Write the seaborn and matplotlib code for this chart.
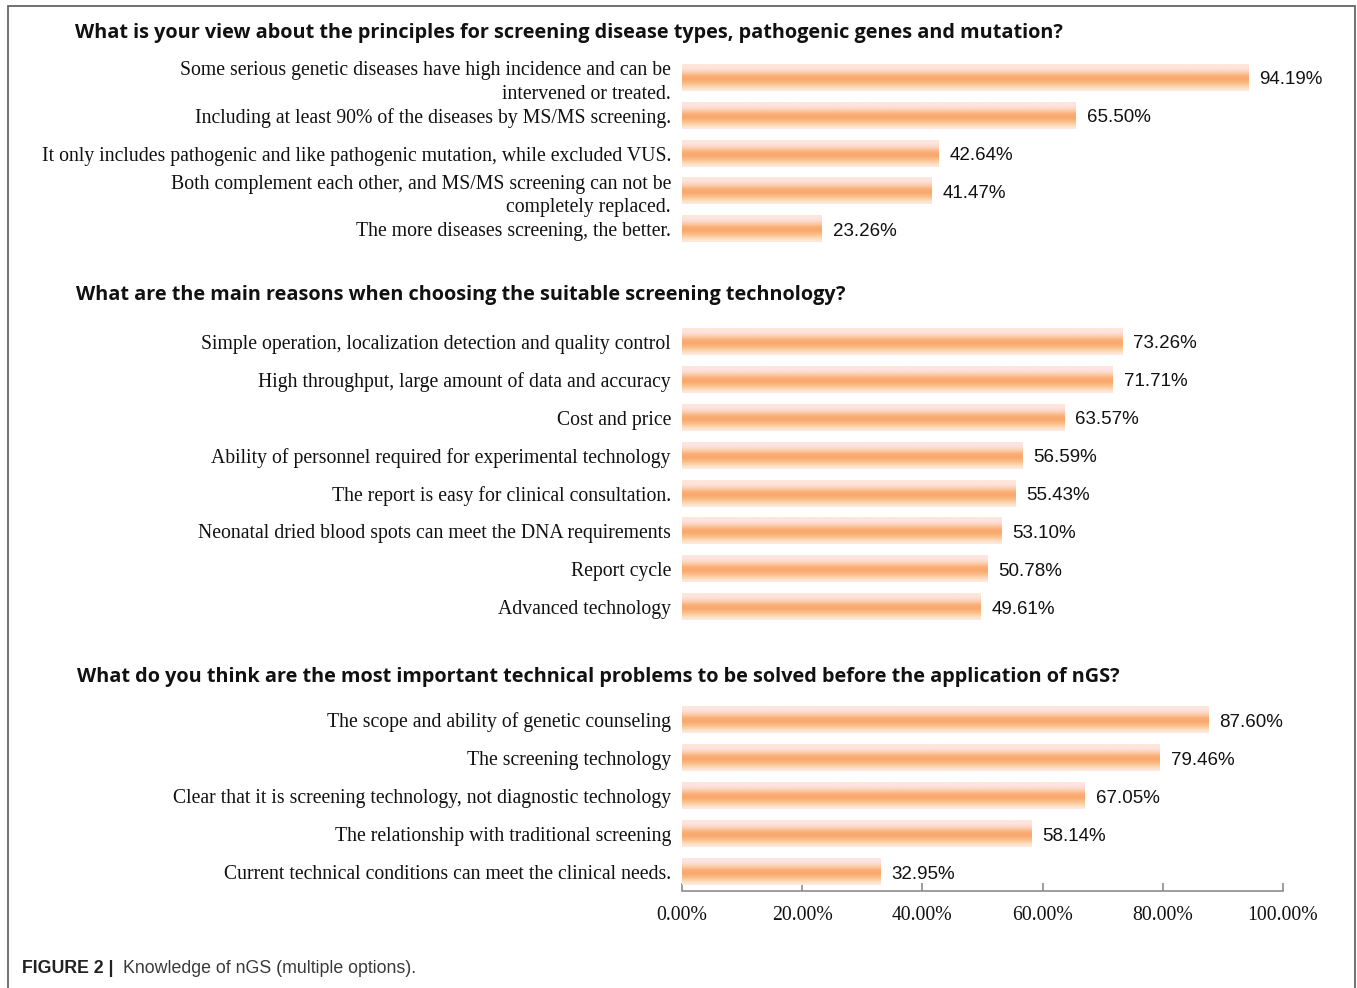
import numpy as np
import pandas as pd
import matplotlib
matplotlib.use("Agg")
import matplotlib.pyplot as plt
from matplotlib.colors import LinearSegmentedColormap
from matplotlib.patches import Rectangle
import seaborn as sns

# ---- survey data -------------------------------------------------------
q1_title = "What is your view about the principles for screening disease types, pathogenic genes and mutation?"
q1_labels = [
    "Some serious genetic diseases have high incidence and can be\nintervened or treated.",
    "Including at least 90% of the diseases by MS/MS screening.",
    "It only includes pathogenic and like pathogenic mutation, while excluded VUS.",
    "Both complement each other, and MS/MS screening can not be\ncompletely replaced.",
    "The more diseases screening, the better.",
]
q1_values = [94.19, 65.50, 42.64, 41.47, 23.26]

q2_title = "What are the main reasons when choosing the suitable screening technology?"
q2_labels = [
    "Simple operation, localization detection and quality control",
    "High throughput, large amount of data and accuracy",
    "Cost and price",
    "Ability of personnel required for experimental technology",
    "The report is easy for clinical consultation.",
    "Neonatal dried blood spots can meet the DNA requirements",
    "Report cycle",
    "Advanced technology",
]
q2_values = [73.26, 71.71, 63.57, 56.59, 55.43, 53.10, 50.78, 49.61]

q3_title = "What do you think are the most important technical problems to be solved before the application of nGS?"
q3_labels = [
    "The scope and ability of genetic counseling",
    "The screening technology",
    "Clear that it is screening technology, not diagnostic technology",
    "The relationship with traditional screening",
    "Current technical conditions can meet the clinical needs.",
]
q3_values = [87.60, 79.46, 67.05, 58.14, 32.95]

x_ticks = [0, 20, 40, 60, 80, 100]
x_tick_labels = ["0.00%", "20.00%", "40.00%", "60.00%", "80.00%", "100.00%"]

caption_bold = "FIGURE 2 |"
caption_text = "Knowledge of nGS (multiple options)."

# ---- style --------------------------------------------------------------
sns.set_style("white")
plt.rcParams["font.family"] = ["Liberation Serif", "DejaVu Serif"]

W, H = 1357, 988
fig = plt.figure(figsize=(W / 100, H / 100), dpi=100)

# vertical gradient used to fill every bar (top -> bottom)
bar_cmap = LinearSegmentedColormap.from_list(
    "peach",
    [(0.00, "#fde8d6"), (0.14, "#fde2e4"), (0.28, "#fcd2b4"),
     (0.45, "#faae76"), (0.58, "#f9a86c"), (0.75, "#fbc38f"),
     (0.90, "#fde0c4"), (1.00, "#feeae6")],
)
gradient = np.linspace(0, 1, 64).reshape(-1, 1)

ax_left = 682 / W
ax_width = (1283 - 682) / W


def px_axes(top_px, bottom_px):
    return fig.add_axes([ax_left, (H - bottom_px) / H, ax_width, (bottom_px - top_px) / H])


sections = [
    (q1_title, q1_labels, q1_values, 59, 248, 75, 33),
    (q2_title, q2_labels, q2_values, 323, 626, 76, 295),
    (q3_title, q3_labels, q3_values, 701, 891, 77, 677),
]

for i, (title, labels, values, top, bottom, tx, ty) in enumerate(sections):
    ax = px_axes(top, bottom)
    df = pd.DataFrame({"label": labels, "value": values})
    sns.barplot(data=df, x="value", y="label", orient="h", width=0.69,
                color="#f9a86c", ax=ax, order=labels)
    ax.set_xlim(0, 100)
    ax.set_ylim(len(labels) - 0.5, -0.5)

    # paint each bar with the vertical gradient
    for patch in ax.patches:
        x0, y0 = patch.get_x(), patch.get_y()
        w, h = patch.get_width(), patch.get_height()
        ax.imshow(gradient, cmap=bar_cmap, aspect="auto", interpolation="bilinear",
                  extent=[x0, x0 + w, y0 + h, y0], zorder=2)
        patch.set_facecolor("none")
        patch.set_edgecolor("none")
    ax.set_xlim(0, 100)
    ax.set_ylim(len(labels) - 0.5, -0.5)

    vals = ax.bar_label(ax.containers[0], labels=[f"{v:.2f}%" for v in values], padding=8,
                        fontsize=13.5, family=["Liberation Sans", "DejaVu Sans"], color="#111111")
    for t in vals:
        t.set_va("center_baseline")

    ax.set_xlabel("")
    ax.set_ylabel("")
    ax.tick_params(axis="y", length=0, pad=8, labelsize=14.25, labelcolor="#111111")
    for t in ax.get_yticklabels():
        t.set_multialignment("right")
        t.set_linespacing(1.3)
    for side in ["top", "right", "left"]:
        ax.spines[side].set_visible(False)

    if i < 2:
        ax.spines["bottom"].set_visible(False)
        ax.set_xticks([])
    else:
        ax.spines["bottom"].set_color("#8c8c8c")
        ax.spines["bottom"].set_linewidth(1.2)
        ax.set_xticks(x_ticks)
        ax.set_xticklabels(x_tick_labels)
        ax.tick_params(axis="x", bottom=True, direction="in", length=6, width=1.2,
                       color="#8c8c8c", pad=11, labelsize=14.25, labelcolor="#111111")
    ax.set_facecolor("none")

    fig.text(tx / W, 1 - ty / H, title, ha="left", va="center", fontsize=14.3,
             fontweight="bold", family=["Open Sans", "DejaVu Sans"], color="#111111")

# frame around the figure panel
fig.add_artist(Rectangle((8 / W, -0.05), (1355 - 8) / W, 1.05 - 6 / H,
                         transform=fig.transFigure, fill=False,
                         edgecolor="#666666", linewidth=1.3))

# caption
fig.text(22 / W, 1 - 968 / H, caption_bold, ha="left", va="center", fontsize=12.8,
         fontweight="bold", family=["Liberation Sans", "DejaVu Sans"], color="#222222")
fig.text(123 / W, 1 - 968 / H, caption_text, ha="left", va="center", fontsize=12.8,
         family=["Liberation Sans", "DejaVu Sans"], color="#3a3a3a")

fig.savefig("out.png", dpi=100, facecolor="white")
